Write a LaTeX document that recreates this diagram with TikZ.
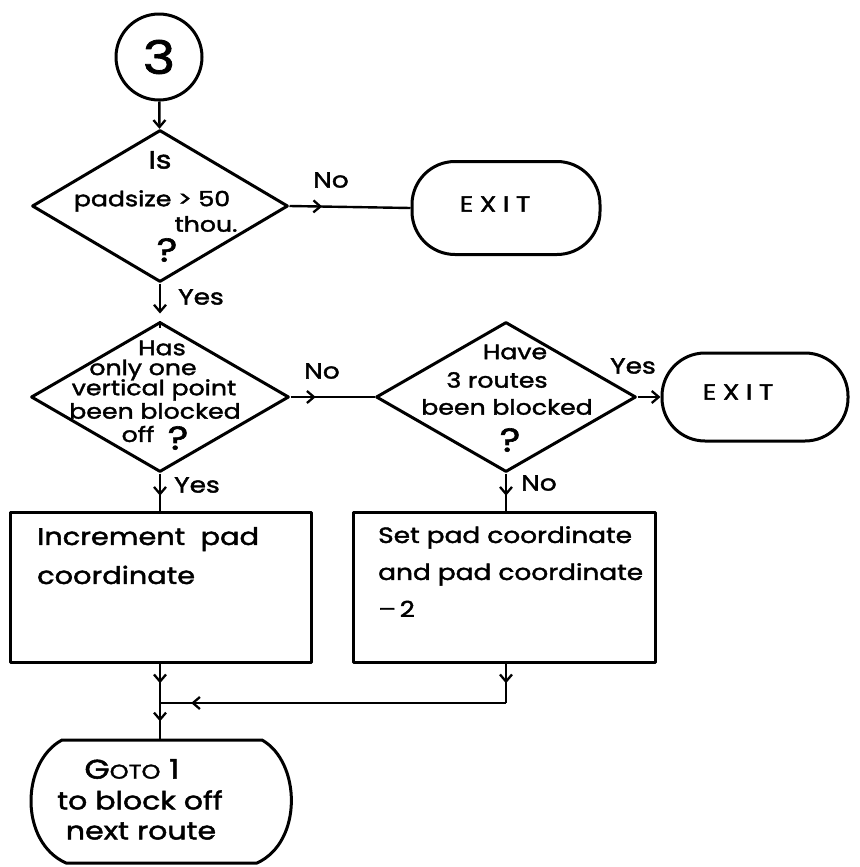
\documentclass[tikz,border=0pt]{standalone}
\usepackage{fontspec}
\setmainfont{Poppins}[FakeStretch=1.2,FakeBold=1.8]
\usetikzlibrary{arrows.meta,decorations.markings,shapes.geometric}
\newcommand\hsz[2]{\fontsize{#1}{#2}\selectfont}
\tikzset{
  ink/.style={draw, line width=3pt, line join=round},
  conn/.style={line width=2.4pt},
  barb/.tip={Straight Barb[length=7pt,width=12pt,line width=2.3pt]},
  midtip/.style={postaction={decorate},
    decoration={markings, mark=at position #1 with {\arrow{barb}}}},
  txt/.style={inner sep=0pt, font=\hsz{21}{24}},
  lbl/.style={inner sep=0pt, font=\hsz{22}{26}},
  qmark/.style={inner sep=0pt, font=\hsz{33}{36}},
  exittxt/.style={inner sep=0pt, font=\hsz{22}{24}\addfontfeature{LetterSpace=30}},
  terminal/.style={ink, rectangle, rounded corners=43pt, inner sep=0pt},
  decision/.style={ink, diamond, inner sep=0pt},
  procbox/.style={ink, rectangle, inner sep=0pt,
    minimum width=301pt, minimum height=150pt},
}
\begin{document}
\begin{tikzpicture}[x=1pt,y=-1pt]
\fill[white] (0,0) rectangle (859,867);
\useasboundingbox (0,0) rectangle (859,867);

% entry connector
\node[ink, circle, minimum size=86pt, inner sep=0pt, font=\hsz{46}{48}] (c3) at (159,57) {3};

% first decision
\node[decision, minimum width=256pt, minimum height=152pt] (d1) at (160,206) {};
\node[txt, font=\hsz{25}{28}] (d1a) at (160,160) {Is};
\node[txt] (d1b) at (152,201) {padsize > 50};
\node[txt] (d1c) at (206,224) {thou.};
\node[qmark] (d1q) at (167,250) {?};

\node[terminal, minimum width=188pt, minimum height=93pt] (exit1) at (506,208) {};
\node[exittxt] (exit1t) at (495,204) {EXIT};

% second decision
\node[decision, minimum width=258pt, minimum height=150pt] (d2) at (160,397) {};
\node[txt] (d2a) at (162,348) {Has};
\node[txt] (d2b) at (143,370) {only one};
\node[txt] (d2c) at (154,390) {vertical point};
\node[txt] (d2d) at (155,411) {been blocked};
\node[txt] (d2e) at (138,434) {off};
\node[qmark] (d2q) at (178,438) {?};

% third decision
\node[decision, minimum width=260pt, minimum height=150pt] (d3) at (506,397) {};
\node[txt] (d3a) at (515,352) {Have};
\node[txt] (d3b) at (497,380) {3 routes};
\node[txt] (d3c) at (507,407) {been blocked};
\node[qmark] (d3q) at (510,440) {?};

\node[terminal, minimum width=186pt, minimum height=88pt] (exit2) at (755,397) {};
\node[exittxt] (exit2t) at (738,392) {EXIT};

% process boxes
\node[procbox] (boxL) at (161,587) {};
\node[inner sep=0pt, anchor=north west, align=left, font=\hsz{24}{39}] (boxLt) at (37,527)
  {Increment\ \ pad\\coordinate};
\node[procbox, minimum width=302pt] (boxR) at (504,587) {};
\node[inner sep=0pt, anchor=north west, align=left, font=\hsz{22}{37}] (boxRt) at (378,526)
  {Set pad coordinate\\and pad coordinate\\\textendash\,2};

% return terminal
\node[minimum width=265pt, minimum height=123pt, inner sep=0pt] (goto) at (160,801.5) {};
\draw[line width=3pt, line join=round]
  (62,740) -- (262,740) .. controls (301,762) and (303,842) .. (257,863)
  -- (66,863) .. controls (19,842) and (21,762) .. cycle;
\node[txt, font=\hsz{27}{30}] (gotoa) at (132,769) {G{\hsz{20}{24}OTO} 1};
\node[txt, font=\hsz{25}{28}] (gotob) at (140,800) {to block off};
\node[txt, font=\hsz{25}{28}] (gotoc) at (141,831) {next route};

% junction points
\coordinate (mL) at (160,703);
\coordinate (mR) at (506,703);

% connectors
\draw[conn, -{barb}] (c3) -- (d1);
\draw[conn, midtip=0.27] (d1.east) -- (exit1.west);
\draw[conn, -{barb}, shorten >=7pt] (d1.south) -- (d2.north);
\draw[conn] ([yshift=-7pt]d2.north) -- (d2.north);
\draw[conn, midtip=0.3] (d2.east) -- (d3.west);
\draw[conn, -{barb}] (d3.east) -- (exit2.west);
\draw[conn, midtip=0.6] (d2.south) -- (d2.south |- boxL.north);
\draw[conn, midtip=0.6] (d3.south) -- (d3.south |- boxR.north);
\draw[conn, midtip=0.5] (d2.south |- boxL.south) -- (mL);
\draw[conn, midtip=0.5] (mL) -- (goto.north);
\draw[conn, midtip=0.5] (d3.south |- boxR.south) -- (mR);
\draw[conn, midtip=0.91] (mR) -- (mL);

% branch labels
\node[lbl] (l1) at (331,180) {No};
\node[lbl] (l2) at (201,297) {Yes};
\node[lbl] (l3) at (322,371) {No};
\node[lbl] (l4) at (633,366) {Yes};
\node[lbl] (l5) at (197,485) {Yes};
\node[lbl] (l6) at (539,483) {No};
\end{tikzpicture}
\end{document}
